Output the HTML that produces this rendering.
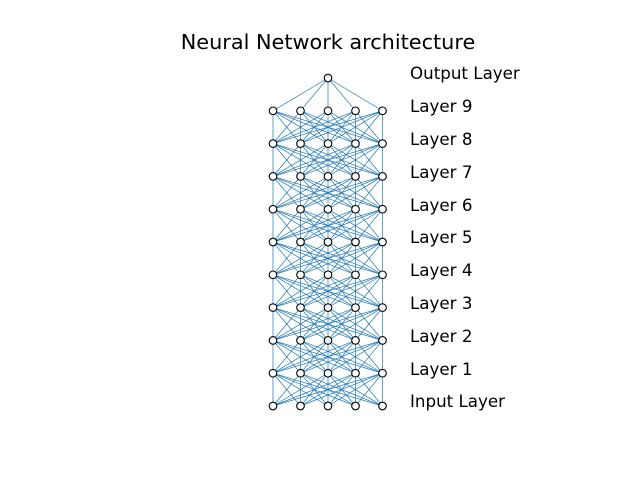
<!DOCTYPE html>
<html><head><meta charset="utf-8"><style>
html,body{margin:0;padding:0;background:#fff;}
svg{display:block;}
text{font-family:"DejaVu Sans","Liberation Sans",sans-serif;fill:#000;}
</style></head><body>
<svg id="s" width="640" height="480" xmlns="http://www.w3.org/2000/svg">
<text x="328" y="49" font-size="20.8" text-anchor="middle">Neural Network architecture</text>
<g font-size="16.7">
<text x="410" y="79">Output Layer</text>
<text x="410" y="112">Layer 9</text>
<text x="410" y="145">Layer 8</text>
<text x="410" y="178">Layer 7</text>
<text x="410" y="211">Layer 6</text>
<text x="410" y="243">Layer 5</text>
<text x="410" y="276">Layer 4</text>
<text x="410" y="309">Layer 3</text>
<text x="410" y="342">Layer 2</text>
<text x="410" y="375">Layer 1</text>
<text x="410" y="407">Input Layer</text>
</g>
<g id="e" stroke="#1f77b4" stroke-width="0.7"></g>
<g id="n" stroke="#000" stroke-width="1.1" fill="#fff"></g>
</svg>
<script>
var xs=[273,300.5,328,355.5,382.5];
var ys=[406,373.2,340.4,307.6,274.8,242,209.2,176.4,143.6,110.8];
var NS="http://www.w3.org/2000/svg",e=document.getElementById('e'),n=document.getElementById('n');
function L(a,b,c,d){var l=document.createElementNS(NS,'line');l.setAttribute('x1',a);l.setAttribute('y1',b);l.setAttribute('x2',c);l.setAttribute('y2',d);e.appendChild(l);}
function C(x,y){var c=document.createElementNS(NS,'circle');c.setAttribute('cx',x);c.setAttribute('cy',y);c.setAttribute('r',3.8);n.appendChild(c);}
for(var i=0;i<ys.length-1;i++)for(var a=0;a<5;a++)for(var b=0;b<5;b++)L(xs[a],ys[i],xs[b],ys[i+1]);
for(var a=0;a<5;a++)L(xs[a],ys[9],328,78);
for(var i=0;i<ys.length;i++)for(var a=0;a<5;a++)C(xs[a],ys[i]);
C(328,78);
</script>
</body></html>
